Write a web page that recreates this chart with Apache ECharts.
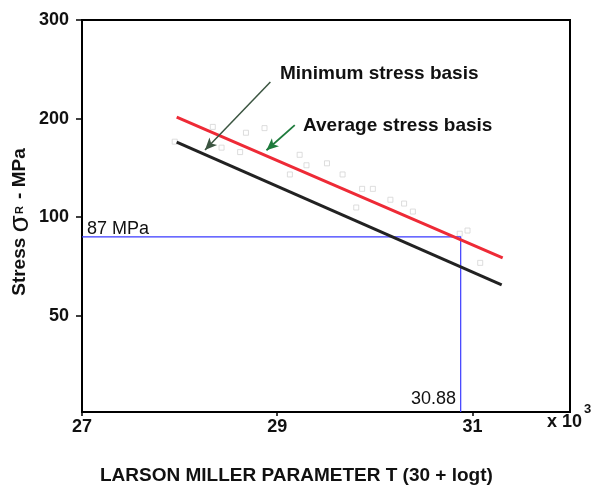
<!DOCTYPE html>
<html>
<head>
<meta charset="utf-8">
<script src="https://cdn.jsdelivr.net/npm/echarts@6/dist/echarts.min.js"></script>
<style>html,body{margin:0;padding:0;background:#fff;}#c{width:595px;height:494px;}</style>
</head>
<body>
<div id="c"></div>
<script>
// ---- data ----
const xTickValues = [27, 29, 31];
const yTickValues = [50, 100, 200, 400];
const yTickLabels = ['50', '100', '200', '300'];
const xMin = 27, xMax = 32, yMin = 25.4, yMax = 400;
const avgX = [27.97, 31.31];
const avgY = [202, 75.1];
const minX = [27.97, 31.30];
const minY = [169.6, 62.1];
const designStress = 87;
const designLMP = 30.88;
const testX = [27.95, 28.34, 28.43, 28.62, 28.68, 28.87, 29.13, 29.23, 29.30, 29.51, 29.67, 29.81, 29.87, 29.98, 30.16, 30.30, 30.39, 30.87, 30.95, 31.08];
const testY = [170, 188.6, 163, 158, 181, 187, 135, 155, 144, 146, 135, 107, 122, 122, 113, 110, 104, 89, 91, 72.5];
const arrowMin = [[28.93, 258.7], [28.26, 160.4]];
const arrowAvg = [[29.18, 191], [28.89, 160]];

const FONT = "'Liberation Sans',Arial,sans-serif";

const chart = echarts.init(document.getElementById('c'), null, {renderer: 'canvas'});
const option = {
  animation: false,
  backgroundColor: '#fff',
  grid: {left: 82, top: 20, width: 488, height: 392, show: true, borderColor: '#000', borderWidth: 2, outerBoundsMode: 'none'},
  xAxis: {
    type: 'value', min: xMin, max: xMax,
    axisLine: {lineStyle: {color: '#000', width: 2}},
    axisTick: {show: true, length: 4, customValues: xTickValues, lineStyle: {color: '#000', width: 1.5}},
    axisLabel: {customValues: xTickValues, color: '#111', fontFamily: FONT, fontWeight: 'bold', fontSize: 18, margin: 6},
    splitLine: {show: false}
  },
  yAxis: {
    type: 'log', logBase: 2, min: yMin, max: yMax,
    axisLine: {show: true, lineStyle: {color: '#000', width: 2}},
    axisTick: {show: true, length: 6, customValues: yTickValues, lineStyle: {color: '#000', width: 1.5}},
    axisLabel: {customValues: yTickValues, color: '#111', fontFamily: FONT, fontWeight: 'bold', fontSize: 18, margin: 13,
      formatter: function (v) { const i = yTickValues.indexOf(Math.round(v)); return i >= 0 ? yTickLabels[i] : ''; }},
    splitLine: {show: false},
    minorTick: {show: false}
  },
  series: [
    {
      type: 'scatter', data: testX.map((x, i) => [x, testY[i]]), symbol: 'rect', symbolSize: 5,
      itemStyle: {color: 'rgba(0,0,0,0)', borderColor: '#d4d4d4', borderWidth: 1}, silent: true, z: 1
    },
    {
      type: 'line', data: [[xMin, designStress], [designLMP, designStress], [designLMP, yMin]],
      symbol: 'none', lineStyle: {color: '#3a3aff', width: 1.2}, z: 2, silent: true
    },
    {
      type: 'line', data: minX.map((x, i) => [x, minY[i]]), symbol: 'none',
      lineStyle: {color: '#222', width: 3}, z: 3, silent: true,
      markLine: {
        silent: true, symbol: ['none', 'arrow'], symbolSize: [8, 12], label: {show: false},
        data: [
          [{coord: arrowMin[0], lineStyle: {color: '#3b5541', width: 1.5, type: 'solid'}}, {coord: arrowMin[1]}],
          [{coord: arrowAvg[0], lineStyle: {color: '#1e7b3c', width: 1.8, type: 'solid'}}, {coord: arrowAvg[1]}]
        ]
      }
    },
    {
      type: 'line', data: avgX.map((x, i) => [x, avgY[i]]), symbol: 'none',
      lineStyle: {color: '#ee2a36', width: 3}, z: 4, silent: true
    }
  ],
  graphic: [
    {type: 'text', left: 280, top: 64, style: {text: 'Minimum stress basis', font: 'bold 19px ' + FONT, fill: '#111'}},
    {type: 'text', left: 303, top: 116, style: {text: 'Average stress basis', font: 'bold 19px ' + FONT, fill: '#111'}},
    {type: 'text', left: 87, top: 220, style: {text: '87 MPa', font: '18px ' + FONT, fill: '#111'}},
    {type: 'text', left: 411, top: 390, style: {text: '30.88', font: '18px ' + FONT, fill: '#111'}},
    {type: 'text', left: 547, top: 413, style: {text: 'x 10', font: 'bold 18px ' + FONT, fill: '#111'}},
    {type: 'text', left: 584, top: 403, style: {text: '3', font: 'bold 13px ' + FONT, fill: '#111'}},
    {type: 'text', left: 100, top: 466, style: {text: 'LARSON MILLER PARAMETER T (30 + logt)', font: 'bold 19px ' + FONT, fill: '#111'}},
    {type: 'text', x: 20, y: 222, rotation: Math.PI / 2, style: {
      text: '{b|Stress }{s|σ}{r|R}{b| - MPa}', align: 'center', verticalAlign: 'middle',
      rich: {
        b: {font: 'bold 19px ' + FONT, fill: '#111'},
        s: {font: '28px ' + FONT, fill: '#111'},
        r: {font: 'bold 11px ' + FONT, fill: '#111', padding: [0, 2, 0, 1]}
      }
    }}
  ]
};
chart.setOption(option);
</script>
</body>
</html>
